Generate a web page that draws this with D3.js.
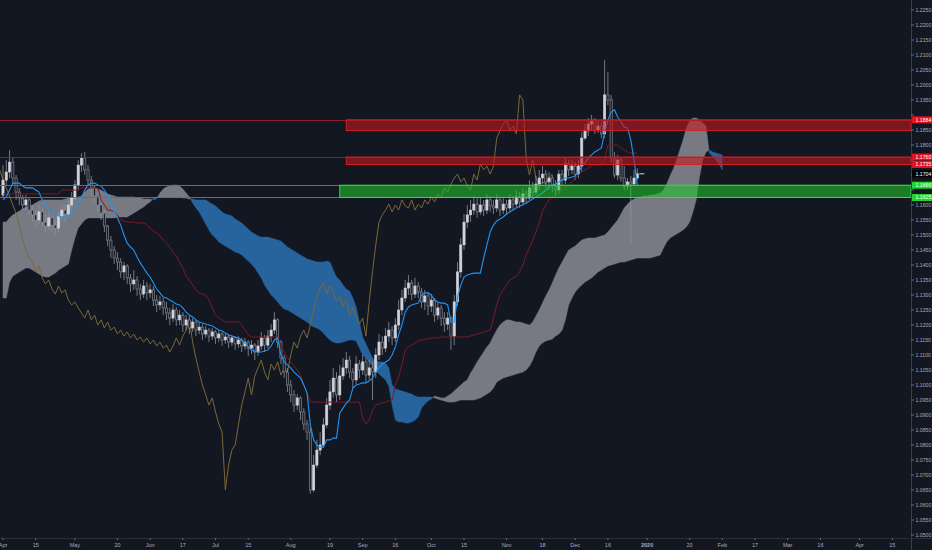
<!DOCTYPE html>
<html><head><meta charset="utf-8">
<script src="https://cdn.jsdelivr.net/npm/d3@7"></script>
<style>html,body{margin:0;padding:0;background:#131722;overflow:hidden}svg{display:block}</style>
</head><body><svg id="c" width="932" height="550"></svg>
<script>
// ---------- DATA (daily bars, index 0 = 2019-04-01, weekdays only) ----------
const firstOpen = 1.1633;
const closes = [
1.1683,1.1710,1.1743,1.1690,1.1643,1.1623,1.1600,1.1617,1.1583,1.1567,
1.1550,1.1577,1.1543,1.1530,1.1557,1.1533,1.1523,1.1563,1.1583,1.1570,
1.1600,1.1623,1.1667,1.1733,1.1757,1.1717,1.1683,1.1657,1.1630,1.1600,
1.1573,1.1530,1.1483,1.1450,1.1423,1.1410,1.1377,1.1397,1.1357,1.1337,
1.1350,1.1320,1.1303,1.1330,1.1307,1.1317,1.1283,1.1267,1.1277,1.1257,
1.1240,1.1223,1.1250,1.1217,1.1233,1.1200,1.1217,1.1190,1.1210,1.1183,
1.1193,1.1170,1.1183,1.1163,1.1177,1.1157,1.1170,1.1150,1.1160,1.1143,
1.1157,1.1137,1.1150,1.1130,1.1143,1.1123,1.1133,1.1110,1.1130,1.1157,
1.1133,1.1163,1.1183,1.1217,1.1143,1.1090,1.1043,1.1000,1.0967,1.0933,
1.0957,1.0910,1.0870,1.0843,1.0650,1.0733,1.0783,1.0800,1.0867,1.0933,
1.0977,1.1023,1.0967,1.1030,1.1057,1.1083,1.1043,1.1017,1.1070,1.1050,
1.1077,1.1033,1.1057,1.1043,1.1100,1.1143,1.1123,1.1163,1.1183,1.1157,
1.1200,1.1250,1.1290,1.1323,1.1340,1.1303,1.1330,1.1310,1.1277,1.1297,
1.1263,1.1283,1.1233,1.1257,1.1223,1.1203,1.1223,1.1163,1.1277,1.1377,
1.1467,1.1543,1.1567,1.1583,1.1603,1.1577,1.1600,1.1583,1.1617,1.1597,
1.1590,1.1617,1.1583,1.1603,1.1590,1.1617,1.1603,1.1627,1.1610,1.1637,
1.1623,1.1657,1.1643,1.1670,1.1690,1.1703,1.1677,1.1690,1.1663,1.1650,
1.1703,1.1683,1.1737,1.1717,1.1730,1.1703,1.1730,1.1823,1.1847,1.1870,
1.1883,1.1850,1.1863,1.1837,1.1967,1.1950,1.1757,1.1700,1.1750,1.1690,
1.1663,1.1677,1.1670,1.1690,1.1704];
const highs = [
1.1733,1.1750,1.1783,1.1757,1.1700,1.1657,1.1633,1.1633,1.1623,1.1600,
1.1583,1.1600,1.1590,1.1567,1.1577,1.1567,1.1550,1.1577,1.1600,1.1603,
1.1617,1.1643,1.1683,1.1750,1.1773,1.1777,1.1733,1.1697,1.1667,1.1643,
1.1617,1.1583,1.1533,1.1497,1.1463,1.1443,1.1423,1.1410,1.1403,1.1370,
1.1383,1.1363,1.1337,1.1350,1.1343,1.1337,1.1330,1.1300,1.1297,1.1290,
1.1277,1.1257,1.1270,1.1260,1.1250,1.1243,1.1233,1.1230,1.1223,1.1217,
1.1210,1.1203,1.1197,1.1190,1.1190,1.1183,1.1183,1.1177,1.1170,1.1170,
1.1167,1.1163,1.1163,1.1157,1.1157,1.1150,1.1150,1.1140,1.1150,1.1177,
1.1167,1.1183,1.1203,1.1243,1.1223,1.1150,1.1100,1.1057,1.1017,1.0983,
1.0970,1.0963,1.0923,1.0883,1.0857,1.0767,1.0817,1.0843,1.0890,1.0957,
1.1017,1.1057,1.1043,1.1067,1.1090,1.1110,1.1097,1.1057,1.1097,1.1083,
1.1100,1.1090,1.1083,1.1077,1.1123,1.1170,1.1163,1.1190,1.1210,1.1197,
1.1223,1.1283,1.1317,1.1350,1.1367,1.1350,1.1357,1.1343,1.1323,1.1317,
1.1310,1.1303,1.1290,1.1277,1.1267,1.1243,1.1243,1.1230,1.1300,1.1410,
1.1490,1.1570,1.1600,1.1617,1.1630,1.1623,1.1623,1.1617,1.1637,1.1630,
1.1617,1.1637,1.1623,1.1623,1.1617,1.1637,1.1630,1.1650,1.1643,1.1657,
1.1650,1.1683,1.1677,1.1697,1.1717,1.1730,1.1717,1.1710,1.1700,1.1683,
1.1717,1.1717,1.1757,1.1750,1.1750,1.1743,1.1750,1.1843,1.1870,1.1890,
1.1900,1.1890,1.1883,1.1877,1.2083,1.2043,1.1967,1.1777,1.1767,1.1757,
1.1730,1.1690,1.1697,1.1717,1.1723];
const lows = [
1.1623,1.1667,1.1690,1.1667,1.1617,1.1600,1.1583,1.1583,1.1567,1.1543,
1.1523,1.1533,1.1527,1.1510,1.1517,1.1510,1.1500,1.1510,1.1550,1.1543,
1.1557,1.1583,1.1617,1.1650,1.1710,1.1700,1.1667,1.1633,1.1610,1.1577,
1.1550,1.1510,1.1463,1.1423,1.1403,1.1383,1.1357,1.1350,1.1337,1.1310,
1.1317,1.1297,1.1283,1.1290,1.1283,1.1290,1.1263,1.1243,1.1250,1.1233,
1.1217,1.1200,1.1210,1.1197,1.1200,1.1177,1.1183,1.1170,1.1177,1.1163,
1.1170,1.1150,1.1157,1.1143,1.1150,1.1137,1.1143,1.1130,1.1137,1.1123,
1.1130,1.1117,1.1123,1.1110,1.1117,1.1097,1.1103,1.1083,1.1097,1.1117,
1.1110,1.1123,1.1143,1.1170,1.1123,1.1070,1.1023,1.0977,1.0943,1.0910,
1.0917,1.0883,1.0850,1.0817,1.0637,1.0643,1.0723,1.0767,1.0790,1.0857,
1.0917,1.0957,1.0943,1.0950,1.1017,1.1037,1.1023,1.0990,1.1003,1.1023,
1.1033,1.1010,1.1017,1.0950,1.1023,1.1083,1.1100,1.1110,1.1143,1.1133,
1.1143,1.1183,1.1233,1.1277,1.1300,1.1283,1.1290,1.1290,1.1257,1.1250,
1.1233,1.1243,1.1210,1.1217,1.1197,1.1177,1.1183,1.1117,1.1133,1.1263,
1.1357,1.1450,1.1523,1.1543,1.1567,1.1557,1.1567,1.1563,1.1570,1.1577,
1.1570,1.1577,1.1563,1.1570,1.1567,1.1577,1.1583,1.1590,1.1590,1.1600,
1.1603,1.1617,1.1623,1.1633,1.1650,1.1670,1.1657,1.1650,1.1643,1.1630,
1.1637,1.1663,1.1670,1.1697,1.1703,1.1683,1.1690,1.1710,1.1817,1.1830,
1.1850,1.1837,1.1840,1.1823,1.1823,1.1933,1.1743,1.1690,1.1683,1.1677,
1.1650,1.1650,1.1467,1.1663,1.1683];
const tenkan = [
1.1617,1.1627,1.1650,1.1673,1.1673,1.1673,1.1663,1.1657,1.1657,1.1657,
1.1650,1.1643,1.1617,1.1597,1.1583,1.1577,1.1570,1.1563,1.1560,1.1560,
1.1560,1.1577,1.1593,1.1607,1.1623,1.1650,1.1667,1.1673,1.1673,1.1667,
1.1663,1.1650,1.1633,1.1607,1.1577,1.1557,1.1533,1.1500,1.1473,1.1460,
1.1450,1.1427,1.1407,1.1390,1.1373,1.1360,1.1340,1.1320,1.1307,1.1293,
1.1290,1.1283,1.1277,1.1270,1.1267,1.1257,1.1243,1.1233,1.1227,1.1217,
1.1210,1.1207,1.1203,1.1200,1.1197,1.1190,1.1183,1.1180,1.1173,1.1167,
1.1163,1.1160,1.1157,1.1150,1.1140,1.1127,1.1117,1.1113,1.1110,1.1110,
1.1113,1.1117,1.1130,1.1150,1.1157,1.1100,1.1077,1.1067,1.1057,1.1043,
1.1033,1.1023,1.1000,1.0973,1.0867,1.0817,1.0800,1.0793,1.0793,1.0817,
1.0817,1.0823,1.0823,1.0907,1.0923,1.0940,1.0950,1.0990,1.1000,1.1003,
1.1007,1.1007,1.1013,1.1023,1.1043,1.1057,1.1070,1.1077,1.1083,1.1100,
1.1127,1.1167,1.1200,1.1243,1.1260,1.1267,1.1270,1.1273,1.1300,1.1307,
1.1307,1.1300,1.1283,1.1277,1.1273,1.1273,1.1267,1.1210,1.1210,1.1293,
1.1333,1.1360,1.1367,1.1370,1.1373,1.1373,1.1373,1.1423,1.1467,1.1510,
1.1533,1.1547,1.1553,1.1560,1.1570,1.1577,1.1583,1.1590,1.1597,1.1600,
1.1607,1.1613,1.1620,1.1627,1.1633,1.1640,1.1650,1.1660,1.1667,1.1670,
1.1677,1.1683,1.1690,1.1690,1.1693,1.1697,1.1710,1.1727,1.1740,1.1757,
1.1767,1.1777,1.1783,1.1790,1.1840,1.1883,1.1910,1.1917,1.1893,1.1877,
1.1860,1.1857,1.1817,1.1750,1.1667];
const kijun = [
1.1637,1.1637,1.1637,1.1637,1.1637,1.1637,1.1637,1.1637,1.1637,1.1637,
1.1637,1.1637,1.1637,1.1637,1.1637,1.1637,1.1637,1.1637,1.1650,1.1650,
1.1650,1.1650,1.1650,1.1650,1.1657,1.1657,1.1657,1.1657,1.1657,1.1657,
1.1617,1.1600,1.1583,1.1583,1.1577,1.1567,1.1550,1.1547,1.1543,1.1543,
1.1543,1.1540,1.1540,1.1540,1.1533,1.1523,1.1513,1.1507,1.1497,1.1483,
1.1473,1.1460,1.1443,1.1430,1.1410,1.1390,1.1363,1.1350,1.1333,1.1317,
1.1307,1.1303,1.1300,1.1283,1.1257,1.1233,1.1223,1.1217,1.1210,1.1210,
1.1210,1.1210,1.1210,1.1200,1.1183,1.1167,1.1160,1.1160,1.1160,1.1160,
1.1160,1.1160,1.1160,1.1160,1.1160,1.1133,1.1110,1.1090,1.1077,1.1063,
1.1050,1.1033,1.1000,1.0973,1.0943,1.0943,1.0943,1.0943,1.0943,1.0943,
1.0943,1.0943,1.0943,1.0943,1.0943,1.0943,1.0943,1.0943,1.0943,1.0943,
1.0890,1.0870,1.0883,1.0917,1.0933,1.0937,1.0940,1.0943,1.0947,1.0950,
1.1000,1.1027,1.1067,1.1117,1.1127,1.1133,1.1140,1.1147,1.1150,1.1153,
1.1153,1.1157,1.1157,1.1157,1.1160,1.1160,1.1160,1.1160,1.1160,1.1160,
1.1160,1.1160,1.1160,1.1163,1.1167,1.1170,1.1173,1.1177,1.1180,1.1183,
1.1223,1.1267,1.1300,1.1317,1.1333,1.1350,1.1357,1.1363,1.1377,1.1400,
1.1433,1.1457,1.1483,1.1510,1.1543,1.1577,1.1600,1.1617,1.1627,1.1637,
1.1643,1.1650,1.1657,1.1667,1.1677,1.1690,1.1700,1.1710,1.1717,1.1723,
1.1730,1.1733,1.1733,1.1733,1.1750,1.1800,1.1800,1.1800,1.1800,1.1790,
1.1783,1.1777,1.1773,1.1773,1.1773];
// leading spans, already displaced 26 bars forward (index 0..220)
const spanA = [
1.1543,1.1543,1.1557,1.1567,1.1573,1.1580,1.1587,1.1593,1.1597,1.1600,
1.1607,1.1613,1.1617,1.1617,1.1617,1.1617,1.1617,1.1617,1.1617,1.1620,
1.1623,1.1623,1.1623,1.1627,1.1630,1.1643,1.1653,1.1657,1.1657,1.1653,
1.1650,1.1643,1.1637,1.1633,1.1630,1.1627,1.1627,1.1627,1.1627,1.1627,
1.1627,1.1623,1.1623,1.1620,1.1620,1.1620,1.1617,1.1620,1.1640,1.1653,
1.1660,1.1663,1.1667,1.1667,1.1663,1.1653,1.1640,1.1627,1.1607,1.1590,
1.1577,1.1557,1.1537,1.1517,1.1500,1.1490,1.1477,1.1470,1.1463,1.1457,
1.1450,1.1443,1.1440,1.1433,1.1423,1.1413,1.1403,1.1390,1.1373,1.1357,
1.1333,1.1317,1.1300,1.1290,1.1277,1.1263,1.1253,1.1250,1.1243,1.1237,
1.1230,1.1223,1.1217,1.1210,1.1200,1.1193,1.1190,1.1183,1.1173,1.1160,
1.1150,1.1143,1.1140,1.1140,1.1143,1.1147,1.1150,1.1150,1.1147,1.1123,
1.1100,1.1090,1.1077,1.1063,1.1050,1.1037,1.1027,1.1017,1.0997,1.0933,
1.0883,1.0877,1.0877,1.0873,1.0873,1.0877,1.0883,1.0893,1.0923,1.0937,
1.0947,1.0953,1.0963,1.0960,1.0957,1.0957,1.0963,1.0970,1.0980,1.0990,
1.1000,1.1010,1.1017,1.1040,1.1057,1.1077,1.1093,1.1110,1.1127,1.1140,
1.1163,1.1183,1.1200,1.1210,1.1217,1.1217,1.1213,1.1210,1.1210,1.1207,
1.1203,1.1200,1.1210,1.1230,1.1250,1.1273,1.1297,1.1317,1.1340,1.1367,
1.1390,1.1410,1.1430,1.1450,1.1457,1.1463,1.1473,1.1483,1.1487,1.1490,
1.1490,1.1490,1.1493,1.1497,1.1500,1.1510,1.1523,1.1537,1.1550,1.1570,
1.1590,1.1603,1.1613,1.1620,1.1623,1.1627,1.1630,1.1630,1.1633,1.1633,
1.1637,1.1640,1.1650,1.1670,1.1697,1.1720,1.1750,1.1783,1.1817,1.1857,
1.1880,1.1890,1.1890,1.1883,1.1873,1.1863,1.1773,1.1763,1.1750,1.1737,1.1717];
const spanB = [
1.1290,1.1290,1.1343,1.1363,1.1370,1.1377,1.1383,1.1390,1.1390,1.1383,
1.1377,1.1370,1.1363,1.1360,1.1360,1.1367,1.1373,1.1383,1.1390,1.1397,
1.1403,1.1450,1.1490,1.1523,1.1537,1.1550,1.1557,1.1557,1.1557,1.1557,
1.1557,1.1557,1.1557,1.1557,1.1557,1.1560,1.1560,1.1560,1.1560,1.1567,
1.1573,1.1580,1.1587,1.1593,1.1603,1.1610,1.1623,1.1627,1.1627,1.1627,
1.1627,1.1627,1.1627,1.1627,1.1627,1.1623,1.1623,1.1620,1.1620,1.1617,
1.1617,1.1617,1.1617,1.1610,1.1603,1.1597,1.1587,1.1577,1.1570,1.1567,
1.1563,1.1553,1.1547,1.1540,1.1530,1.1520,1.1510,1.1503,1.1497,1.1493,
1.1493,1.1493,1.1490,1.1487,1.1483,1.1480,1.1470,1.1460,1.1453,1.1447,
1.1440,1.1433,1.1427,1.1420,1.1417,1.1413,1.1410,1.1410,1.1410,1.1413,
1.1410,1.1383,1.1360,1.1350,1.1333,1.1320,1.1313,1.1290,1.1260,1.1210,
1.1160,1.1137,1.1113,1.1090,1.1080,1.1077,1.1077,1.1073,1.1057,1.1000,
1.0987,1.0983,1.0980,1.0977,1.0973,1.0970,1.0963,1.0960,1.0960,1.0960,
1.0960,1.0960,1.0957,1.0953,1.0950,1.0947,1.0943,1.0943,1.0943,1.0947,
1.0950,1.0950,1.0950,1.0950,1.0950,1.0953,1.0957,1.0963,1.0970,1.0977,
1.0990,1.1010,1.1017,1.1023,1.1027,1.1030,1.1033,1.1037,1.1040,1.1043,
1.1050,1.1063,1.1083,1.1110,1.1130,1.1140,1.1147,1.1150,1.1153,1.1163,
1.1170,1.1183,1.1217,1.1267,1.1290,1.1310,1.1323,1.1333,1.1343,1.1350,
1.1357,1.1367,1.1377,1.1383,1.1390,1.1397,1.1400,1.1403,1.1407,1.1410,
1.1410,1.1413,1.1417,1.1420,1.1423,1.1423,1.1423,1.1423,1.1423,1.1427,
1.1430,1.1433,1.1457,1.1477,1.1490,1.1497,1.1503,1.1510,1.1517,1.1527,
1.1543,1.1577,1.1617,1.1693,1.1750,1.1777,1.1783,1.1777,1.1773,1.1770,1.1767];
const lagShift = 26;
// horizontal zones drawn on the chart
const redZones = [[1.1884, 1.1848], [1.1760, 1.1735]];
const greenZone = [1.1666, 1.1625];
const redZoneStart = "2019-08-26", greenZoneStart = "2019-08-22";
const lastPrice = 1.1704;
const startDate = "2019-04-01";
const tickDates = ["2019-04-01","2019-04-15","2019-05-01","2019-05-20","2019-06-03","2019-06-17","2019-07-01","2019-07-15","2019-08-01","2019-08-19","2019-09-02","2019-09-16","2019-10-01","2019-10-15","2019-11-01","2019-11-18","2019-12-02","2019-12-16","2020-01-01","2020-01-20","2020-02-03","2020-02-17","2020-03-02","2020-03-16","2020-04-01","2020-04-15"];
const tickLabels = ["Apr","15","May","20","Jun","17","Jul","15","Aug","19","Sep","16","Oct","15","Nov","18","Dec","16","2020","20","Feb","17","Mar","16","Apr","15"];
const priceTicks = [1.2250,1.2200,1.2150,1.2100,1.2050,1.2000,1.1950,1.1900,1.1850,1.1800,1.1750,1.1700,1.1650,1.1600,1.1550,1.1500,1.1450,1.1400,1.1350,1.1300,1.1250,1.1200,1.1150,1.1100,1.1050,1.1000,1.0950,1.0900,1.0850,1.0800,1.0750,1.0700,1.0650,1.0600,1.0550,1.0500];

// ---------- DRAW ----------
const W = 932, H = 550, AX = 911, BY = 538;
const FONT = "'Liberation Sans', Arial, sans-serif";
const FS = 5.2;
const svg = d3.select('#c');
svg.append('rect').attr('width', W).attr('height', H).attr('fill', '#131722');
const x = d3.scaleLinear().domain([-0.917, 277.7]).range([0, AX]);
const y = d3.scaleLinear().domain([1.225, 1.05]).range([10, 535]);
const parse = d3.timeParse('%Y-%m-%d');
const d0 = parse(startDate);
const tIndex = s => d3.timeDay.range(d0, parse(s)).filter(d => d.getDay() % 6 !== 0).length;

svg.append('defs').append('clipPath').attr('id', 'clip')
  .append('rect').attr('x', 0).attr('y', 0).attr('width', AX).attr('height', BY);
const g = svg.append('g').attr('clip-path', 'url(#clip)');

// cloud
const runs = []; let cur = null;
for (let i = 0; i < spanA.length; i++) {
  const d = spanA[i] - spanB[i], s = d >= 0 ? 1 : -1;
  if (!cur) { cur = {s, pts: [{i, a: spanA[i], b: spanB[i]}]}; continue; }
  if (s === cur.s) cur.pts.push({i, a: spanA[i], b: spanB[i]});
  else {
    const dp = spanA[i-1] - spanB[i-1], t = dp / (dp - d);
    const ci = i - 1 + t, ca = spanA[i-1] + t * (spanA[i] - spanA[i-1]);
    cur.pts.push({i: ci, a: ca, b: ca}); runs.push(cur);
    cur = {s, pts: [{i: ci, a: ca, b: ca}, {i, a: spanA[i], b: spanB[i]}]};
  }
}
runs.push(cur);
const area = d3.area().x(p => x(p.i)).y0(p => y(p.b)).y1(p => y(p.a));
g.selectAll('path.cloud').data(runs).join('path').attr('class', 'cloud')
  .attr('d', r => area(r.pts))
  .attr('fill', r => r.s > 0 ? '#777a83' : '#27639c')
  .attr('stroke', r => r.s > 0 ? '#777a83' : '#27639c').attr('stroke-width', 0.5);

// lagging span
const lag = closes.map((c, i) => ({i: i - lagShift, v: c})).filter(p => p.i >= -1);
const line = d3.line().x(p => x(p.i)).y(p => y(p.v));
g.append('path').attr('d', line(lag)).attr('fill', 'none').attr('stroke', '#7a6836').attr('stroke-width', 1);

// candles
const bars = closes.map((c, i) => ({i, o: i ? closes[i-1] : firstOpen, h: highs[i], l: lows[i], c}));
const cg = g.append('g');
cg.selectAll('line').data(bars).join('line')
  .attr('x1', d => x(d.i)).attr('x2', d => x(d.i))
  .attr('y1', d => y(d.h)).attr('y2', d => y(d.l))
  .attr('stroke', '#8e919a').attr('stroke-width', 0.8);
cg.selectAll('rect').data(bars).join('rect')
  .attr('x', d => x(d.i) - 1.1).attr('width', 2.2)
  .attr('y', d => y(Math.max(d.o, d.c)))
  .attr('height', d => Math.max(0.8, Math.abs(y(d.o) - y(d.c))))
  .attr('fill', d => d.c >= d.o ? '#d1d4dc' : '#1e222d')
  .attr('stroke', d => d.c >= d.o ? '#d1d4dc' : '#8e919a').attr('stroke-width', 0.6);

// kijun / tenkan
g.append('path').attr('d', line(kijun.map((v, i) => ({i, v}))))
  .attr('fill', 'none').attr('stroke', '#7c1a22').attr('stroke-width', 1);
g.append('path').attr('d', line(tenkan.map((v, i) => ({i, v}))))
  .attr('fill', 'none').attr('stroke', '#2196f3').attr('stroke-width', 1.1);

// last price dash
g.append('line').attr('x1', x(closes.length - 1) + 2).attr('x2', x(closes.length - 1) + 7)
  .attr('y1', y(lastPrice)).attr('y2', y(lastPrice)).attr('stroke', '#d1d4dc').attr('stroke-width', 1);

// zones
const zg = svg.append('g');
const hl = (p, col) => zg.append('line').attr('x1', 0).attr('x2', AX)
  .attr('y1', Math.round(y(p)) + 0.5).attr('y2', Math.round(y(p)) + 0.5)
  .attr('stroke', col).attr('stroke-width', 1);
redZones.forEach(z => hl(z[0], '#8e1c23'));
hl(greenZone[0], '#23a02b');
hl(greenZone[1], '#23a02b');
const rx = x(tIndex(redZoneStart)), gx = x(tIndex(greenZoneStart));
redZones.forEach(z => {
  zg.append('rect').attr('x', rx).attr('width', AX - rx)
    .attr('y', y(z[0])).attr('height', y(z[1]) - y(z[0]))
    .attr('fill', 'rgba(190,25,32,0.6)').attr('stroke', '#d41e24').attr('stroke-width', 1);
});
zg.append('rect').attr('x', gx).attr('width', AX - gx)
  .attr('y', y(greenZone[0])).attr('height', y(greenZone[1]) - y(greenZone[0]))
  .attr('fill', 'rgba(35,190,45,0.6)').attr('stroke', '#2fe03a').attr('stroke-width', 1);

// axes
svg.append('line').attr('x1', AX + 0.5).attr('x2', AX + 0.5).attr('y1', 0).attr('y2', H)
  .attr('stroke', '#3a3e4a');
svg.append('line').attr('x1', 0).attr('x2', W).attr('y1', BY + 0.5).attr('y2', BY + 0.5)
  .attr('stroke', '#2a2e39');
const labelPrices = [redZones[0][0], redZones[1][0], redZones[1][1], lastPrice, greenZone[0], greenZone[1]];
const ya = svg.append('g');
priceTicks.forEach(p => {
  ya.append('line').attr('x1', AX).attr('x2', AX + 3).attr('y1', y(p)).attr('y2', y(p)).attr('stroke', '#6a6d78');
  const hidden = labelPrices.some(q => Math.abs(y(q) - y(p)) < 6.2);
  if (!hidden) ya.append('text').attr('x', AX + 4.5).attr('y', y(p)).attr('dy', '0.35em')
    .attr('font-family', FONT).attr('font-size', FS).attr('fill', '#a9acb5').text(p.toFixed(4));
});
const xa = svg.append('g');
tickDates.forEach((d, k) => {
  const xi = x(tIndex(d));
  xa.append('line').attr('x1', xi).attr('x2', xi).attr('y1', BY).attr('y2', BY + 2).attr('stroke', '#6a6d78');
  xa.append('text').attr('x', xi).attr('y', 545).attr('dy', '0.35em').attr('text-anchor', 'middle')
    .attr('font-family', FONT).attr('font-size', FS + 0.3)
    .attr('font-weight', tickLabels[k] === '2020' ? 'bold' : 'normal')
    .attr('fill', '#a9acb5').text(tickLabels[k]);
});
// price labels
const lab = (p, bg, fg) => {
  ya.append('rect').attr('x', AX + 1).attr('y', y(p) - 3.5).attr('width', W - AX - 1).attr('height', 7).attr('fill', bg);
  ya.append('text').attr('x', AX + 4.5).attr('y', y(p)).attr('dy', '0.35em')
    .attr('font-family', FONT).attr('font-size', FS).attr('fill', fg).text(p.toFixed(4));
};
lab(redZones[0][0], '#e3121c', '#ffffff');
lab(redZones[1][0], '#e3121c', '#ffffff');
lab(redZones[1][1], '#e3121c', '#ffffff');
lab(lastPrice, '#000000', '#ffffff');
lab(greenZone[0], '#22d62a', '#ffffff');
lab(greenZone[1], '#22d62a', '#ffffff');
</script></body></html>
